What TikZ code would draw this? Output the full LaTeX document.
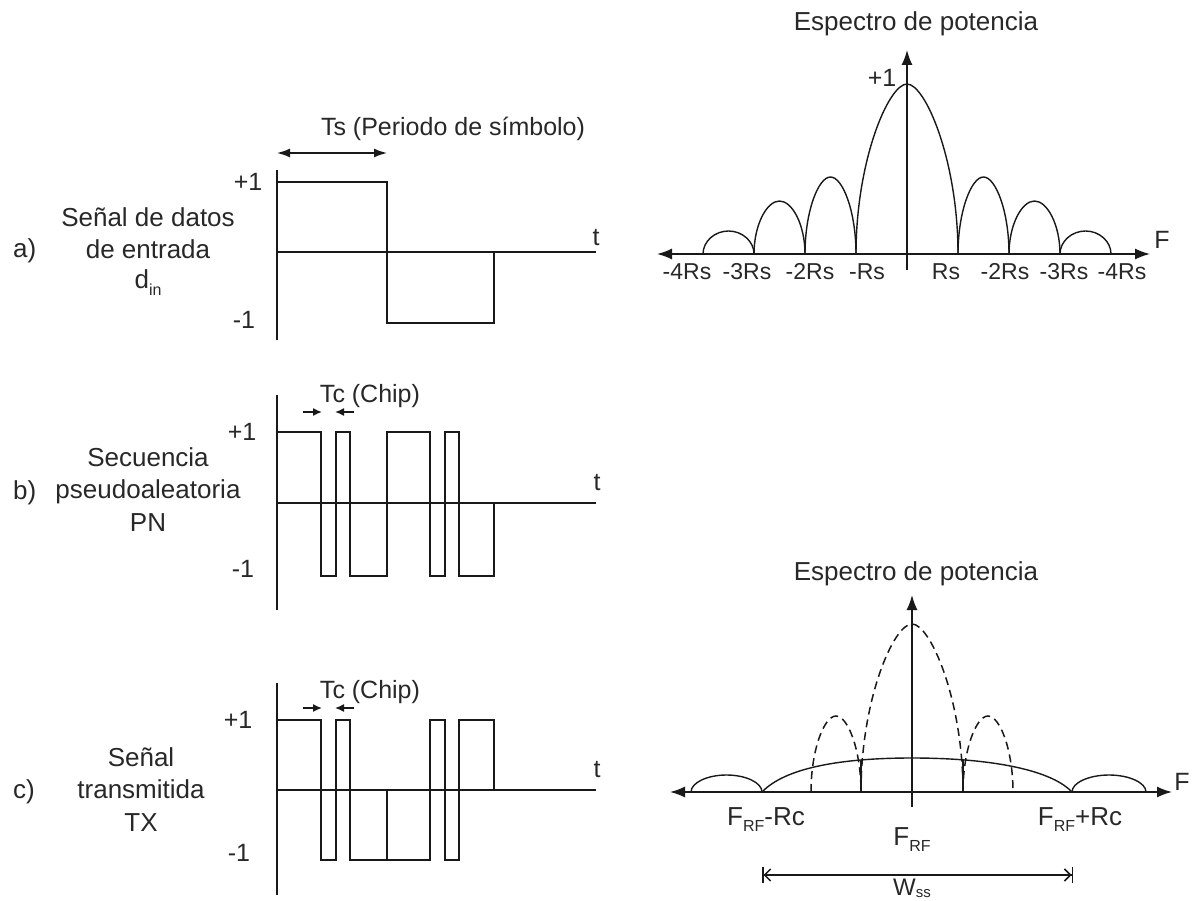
\documentclass[tikz,border=0pt]{standalone}
\usepackage{fontspec}
\setmainfont{Liberation Sans}
\usetikzlibrary{arrows.meta}
\definecolor{ink}{RGB}{25,25,25}
\definecolor{txtc}{RGB}{40,40,40}
\newcommand\sbs[1]{\raisebox{-0.25em}{\fontsize{16}{16}\selectfont #1}}
\newcommand\sbt[1]{\raisebox{-0.12em}{\fontsize{15}{15}\selectfont #1}}
% #1 = k (top flatness), #2 style, #3 a, #4 b, #5 base y, #6 top y
\newcommand\splobe[6][0.25]{%
  \pgfmathsetmacro\lM{(#3+#4)/2}%
  \pgfmathsetmacro\lcA{#5-0.55*(#5-#6)}%
  \pgfmathsetmacro\lcx{#1*(#4-#3)}%
  \draw[#2] (#3,#5) .. controls (#3,\lcA) and (\lM-\lcx,#6) .. (\lM,#6)
     .. controls (\lM+\lcx,#6) and (#4,\lcA) .. (#4,#5);}
\begin{document}
\begin{tikzpicture}[x=1pt,y=-1pt,
  wave/.style={ink, line width=2.2pt, line join=miter},
  axis/.style={ink, line width=1.5pt},
  curve/.style={ink, line width=1.4pt},
  dcurve/.style={ink, line width=1.5pt, dash pattern=on 8pt off 5pt},
  lbl/.style={text=txtc, font=\fontsize{26}{31}\selectfont, inner sep=0pt, anchor=base},
  tick/.style={text=txtc, font=\fontsize{23}{26}\selectfont, inner sep=0pt},
  btick/.style={text=txtc, font=\fontsize{25}{28}\selectfont, inner sep=0pt},
  tip/.style={-{Latex[length=15pt,width=11pt]}},
  twotip/.style={{Latex[length=15pt,width=11pt]}-{Latex[length=15pt,width=11pt]}},
  smalltip/.style={-{Latex[length=9pt,width=8pt]}}]
\useasboundingbox[fill=white] (0,0) rectangle (1194,901);

% ---------- panel a ----------
\coordinate (aT) at (277,170); \coordinate (aB) at (277,340);
\coordinate (aO) at (277,252); \coordinate (aE) at (596,252);
\draw[axis] (aT) -- (aB);
\draw[axis] (aO) -- (aE);
\draw[wave] (277,182) -- (387,182) -- (387,323) -- (494,323) -- (494,252);
\coordinate (tsL) at (277,153); \coordinate (tsR) at (387,153);
\draw[axis,{Latex[length=13pt,width=9pt]}-{Latex[length=13pt,width=9pt]}] (tsL) -- (tsR);
\node[lbl,font=\fontsize{25}{30}\selectfont] (tsT) at (453,136) {Ts (Periodo de símbolo)};
\node[btick] (ap1) at (248,182) {+1};
\node[btick] (am1) at (244,320) {-1};
\node[btick] (at) at (596,238) {t};
\node[lbl,anchor=base west] (alab) at (13,258) {a)};
\node[lbl] (a1) at (148,227) {Señal de datos};
\node[lbl] (a2) at (148,259) {de entrada};
\node[lbl] (a3) at (148,289) {d\sbs{in}};

% ---------- panel b ----------
\coordinate (bT) at (277,395); \coordinate (bB) at (277,610);
\coordinate (bO) at (277,503); \coordinate (bE) at (596,503);
\draw[axis] (bT) -- (bB);
\draw[axis] (bO) -- (bE);
\draw[wave] (277,432) -| (321,576) -| (336,432) -| (350,576) -| (387,432)
  -| (430,576) -| (445,432) -| (459,576) -| (494,503);
\coordinate (bc1) at (303,412); \coordinate (bc2) at (322,412);
\coordinate (bc3) at (354,412); \coordinate (bc4) at (335,412);
\draw[axis,smalltip] (bc1) -- (bc2);
\draw[axis,smalltip] (bc3) -- (bc4);
\node[lbl,font=\fontsize{25}{30}\selectfont] (bTc) at (370,402) {Tc (Chip)};
\node[btick] (bp1) at (242,432) {+1};
\node[btick] (bm1) at (243,569) {-1};
\node[btick] (bt) at (597,483) {t};
\node[lbl,anchor=base west] (blab) at (13,499) {b)};
\node[lbl] (b1) at (148,466) {Secuencia};
\node[lbl] (b2) at (148,498) {pseudoaleatoria};
\node[lbl] (b3) at (148,531) {PN};

% ---------- panel c ----------
\coordinate (cT) at (277,683); \coordinate (cB) at (277,895);
\coordinate (cO) at (277,790); \coordinate (cE) at (596,790);
\draw[axis] (cT) -- (cB);
\draw[axis] (cO) -- (cE);
\draw[wave] (277,720) -| (321,860) -| (336,720) -| (350,860) -| (430,720)
  -| (445,860) -| (459,720) -| (494,790);
\draw[wave] (387,860) -- (387,790);
\coordinate (cc1) at (303,708); \coordinate (cc2) at (322,708);
\coordinate (cc3) at (354,708); \coordinate (cc4) at (335,708);
\draw[axis,smalltip] (cc1) -- (cc2);
\draw[axis,smalltip] (cc3) -- (cc4);
\node[lbl,font=\fontsize{25}{30}\selectfont] (cTc) at (370,698) {Tc (Chip)};
\node[btick] (cp1) at (238,720) {+1};
\node[btick] (cm1) at (239,853) {-1};
\node[btick] (ct) at (597,770) {t};
\node[lbl,anchor=base west] (clab) at (13,798) {c)};
\node[lbl] (c1) at (141,766) {Señal};
\node[lbl] (c2) at (141,798) {transmitida};
\node[lbl] (c3) at (141,831) {TX};

% ---------- top spectrum ----------
\coordinate (sL) at (657,254); \coordinate (sR) at (1150,254);
\coordinate (sB) at (907,270); \coordinate (sU) at (907,50);
\draw[axis,twotip] (sL) -- (sR);
\draw[axis,tip] (sB) -- (sU);
\splobe[0.18]{curve}{856}{958}{254}{84}
\splobe[0.24]{curve}{805}{856}{254}{177}
\splobe[0.24]{curve}{958}{1009}{254}{177}
\splobe[0.25]{curve}{754}{805}{254}{201}
\splobe[0.25]{curve}{1009}{1060}{254}{201}
\splobe[0.27]{curve}{703}{754}{254}{231}
\splobe[0.27]{curve}{1060}{1111}{254}{231}
\node[lbl] (sTitle) at (916,31) {Espectro de potencia};
\node[btick] (sp1) at (882,78) {+1};
\node[btick] (sF) at (1162,240) {F};
\node[tick] (r1) at (687,272) {-4Rs};
\node[tick] (r2) at (747,272) {-3Rs};
\node[tick] (r3) at (810,272) {-2Rs};
\node[tick] (r4) at (867,272) {-Rs};
\node[tick] (r5) at (946,272) {Rs};
\node[tick] (r6) at (1005,272) {-2Rs};
\node[tick] (r7) at (1064,272) {-3Rs};
\node[tick] (r8) at (1122,272) {-4Rs};

% ---------- bottom spectrum ----------
\coordinate (qL) at (670,792); \coordinate (qR) at (1172,792);
\coordinate (qB) at (912,807); \coordinate (qU) at (912,595);
\draw[axis,twotip] (qL) -- (qR);
\draw[axis,tip] (qB) -- (qU);
\splobe[0.27]{curve}{691}{762}{792}{775}
\splobe[0.27]{curve}{1072}{1146}{792}{775}
\draw[curve] (762,792) .. controls (785,768) and (840,758) .. (912,758)
  .. controls (984,758) and (1049,768) .. (1072,792);
\draw[curve] (861,792) -- (861,760);
\draw[curve] (963,792) -- (963,760);
\splobe[0.18]{dcurve}{861}{963}{792}{624}
\splobe[0.24]{dcurve}{811}{861}{792}{716}
\splobe[0.24]{dcurve}{963}{1013}{792}{716}
\node[lbl] (qTitle) at (916,580) {Espectro de potencia};
\node[btick] (qF) at (1182,782) {F};
\node[lbl] (q1) at (766,825) {F\sbs{RF}-Rc};
\node[lbl] (q2) at (912,845) {F\sbs{RF}};
\node[lbl] (q3) at (1080,825) {F\sbs{RF}+Rc};
\coordinate (wL) at (762,875); \coordinate (wR) at (1073,875);
\draw[axis,{Bar[width=16pt]Straight Barb[length=6pt,width=12pt]}-{Straight Barb[length=6pt,width=12pt]Bar[width=16pt]}] (wL) -- (wR);
\node[lbl,font=\fontsize{24}{28}\selectfont] (wss) at (912,895) {W\sbt{ss}};
\end{tikzpicture}
\end{document}
